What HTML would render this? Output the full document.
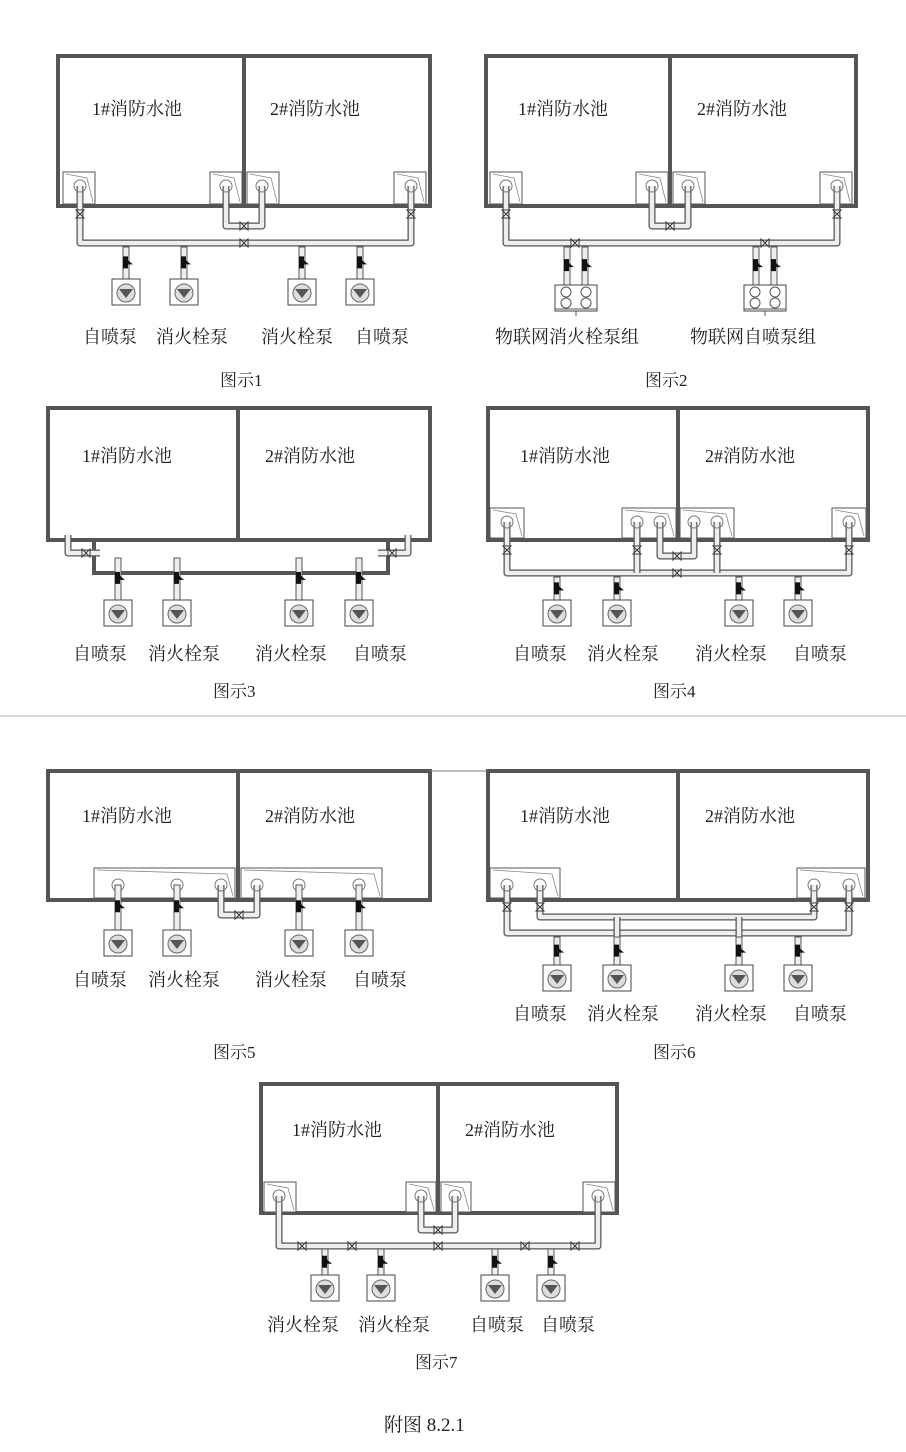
<!DOCTYPE html>
<html><head><meta charset="utf-8">
<style>
html,body{margin:0;padding:0;background:#fff;}
svg{display:block}
text{font-family:"Liberation Serif","Noto Serif CJK SC",serif;fill:#222;}
.t{font-size:18px}
.l{font-size:18px}
.c{font-size:17px}
</style></head><body>
<svg id="s" width="906" height="1452" viewBox="0 0 906 1452" xmlns="http://www.w3.org/2000/svg">
<g id="g"></g>
<line x1="0" y1="716" x2="906" y2="716" stroke="#c8c8c8" stroke-width="1.5"/>
<line x1="430" y1="771" x2="487" y2="771" stroke="#777" stroke-width="1"/>
<!-- Diagram 1 -->
<text class="t" x="92" y="115">1#消防水池</text>
<text class="t" x="270" y="115">2#消防水池</text>
<text class="l" x="83" y="343">自喷泵</text>
<text class="l" x="156" y="343">消火栓泵</text>
<text class="l" x="261" y="343">消火栓泵</text>
<text class="l" x="355" y="343">自喷泵</text>
<text class="c" x="220" y="386">图示1</text>
<!-- Diagram 2 -->
<text class="t" x="518" y="115">1#消防水池</text>
<text class="t" x="697" y="115">2#消防水池</text>
<text class="l" x="495" y="343">物联网消火栓泵组</text>
<text class="l" x="690" y="343">物联网自喷泵组</text>
<text class="c" x="645" y="386">图示2</text>
<!-- Diagram 3 -->
<text class="t" x="82" y="462">1#消防水池</text>
<text class="t" x="265" y="462">2#消防水池</text>
<text class="l" x="73" y="660">自喷泵</text>
<text class="l" x="148" y="660">消火栓泵</text>
<text class="l" x="255" y="660">消火栓泵</text>
<text class="l" x="353" y="660">自喷泵</text>
<text class="c" x="213" y="697">图示3</text>
<!-- Diagram 4 -->
<text class="t" x="520" y="462">1#消防水池</text>
<text class="t" x="705" y="462">2#消防水池</text>
<text class="l" x="513" y="660">自喷泵</text>
<text class="l" x="587" y="660">消火栓泵</text>
<text class="l" x="695" y="660">消火栓泵</text>
<text class="l" x="793" y="660">自喷泵</text>
<text class="c" x="653" y="697">图示4</text>
<!-- Diagram 5 -->
<text class="t" x="82" y="822">1#消防水池</text>
<text class="t" x="265" y="822">2#消防水池</text>
<text class="l" x="73" y="986">自喷泵</text>
<text class="l" x="148" y="986">消火栓泵</text>
<text class="l" x="255" y="986">消火栓泵</text>
<text class="l" x="353" y="986">自喷泵</text>
<text class="c" x="213" y="1058">图示5</text>
<!-- Diagram 6 -->
<text class="t" x="520" y="822">1#消防水池</text>
<text class="t" x="705" y="822">2#消防水池</text>
<text class="l" x="513" y="1020">自喷泵</text>
<text class="l" x="587" y="1020">消火栓泵</text>
<text class="l" x="695" y="1020">消火栓泵</text>
<text class="l" x="793" y="1020">自喷泵</text>
<text class="c" x="653" y="1058">图示6</text>
<!-- Diagram 7 -->
<text class="t" x="292" y="1136">1#消防水池</text>
<text class="t" x="465" y="1136">2#消防水池</text>
<text class="l" x="267" y="1331">消火栓泵</text>
<text class="l" x="358" y="1331">消火栓泵</text>
<text class="l" x="470" y="1331">自喷泵</text>
<text class="l" x="541" y="1331">自喷泵</text>
<text class="c" x="415" y="1368">图示7</text>
<text x="384" y="1431" style="font-size:19px">附图 8.2.1</text>
</svg>
<script>
var NS="http://www.w3.org/2000/svg",G=document.getElementById("g");
function el(n,a){var e=document.createElementNS(NS,n);for(var k in a)e.setAttribute(k,a[k]);G.appendChild(e);return e;}
function tank(x1,y1,x2,y2,d){
 el("rect",{x:x1,y:y1,width:x2-x1,height:y2-y1,fill:"none",stroke:"#555","stroke-width":4});
 el("line",{x1:d,y1:y1,x2:d,y2:y2,stroke:"#555","stroke-width":4});
}
function box(x,y,w,h){
 el("rect",{x:x,y:y,width:w,height:h,fill:"#fff",stroke:"#555","stroke-width":1});
 el("polyline",{points:(x+3)+","+(y+2)+" "+(x+w-8)+","+(y+6)+" "+(x+w-2)+","+(y+h-2),fill:"none",stroke:"#888","stroke-width":0.8});
}
function outlet(x,y){el("circle",{cx:x,cy:y,r:6,fill:"none",stroke:"#777","stroke-width":1});}
function pipe(pts){
 var p=pts.map(function(a){return a.join(",")}).join(" ");
 el("polyline",{points:p,fill:"none",stroke:"#555","stroke-width":7,"stroke-linejoin":"round"});
 el("polyline",{points:p,fill:"none",stroke:"#eee","stroke-width":4.5,"stroke-linejoin":"round"});
}
function valveH(x,y){el("path",{d:"M"+(x-4)+","+(y-4)+"L"+(x+4)+","+(y+4)+"L"+(x+4)+","+(y-4)+"L"+(x-4)+","+(y+4)+"Z",fill:"#fff",stroke:"#333","stroke-width":1});}
function valveV(x,y){el("path",{d:"M"+(x-4)+","+(y-4)+"L"+(x+4)+","+(y+4)+"L"+(x-4)+","+(y+4)+"L"+(x+4)+","+(y-4)+"Z",fill:"#fff",stroke:"#333","stroke-width":1});}
function pump(x,y0,by){
 // stem
 el("rect",{x:x-3,y:y0,width:6,height:by-y0,fill:"#eee",stroke:"#555","stroke-width":1});
 var m=y0+(by-y0)*0.45;
 el("path",{d:"M"+(x-3)+","+(m-5)+"h5v4l5,4h-5v4h-5z",fill:"#111"});
 el("rect",{x:x-14,y:by,width:28,height:26,fill:"#fff",stroke:"#444","stroke-width":1});
 el("circle",{cx:x,cy:by+14,r:9,fill:"#ddd",stroke:"#666","stroke-width":1});
 el("path",{d:"M"+(x-7)+","+(by+10)+"h14l-7,9z",fill:"#555"});
}
function group(x,y0,by){
 [x-9,x+9].forEach(function(px){
  el("rect",{x:px-3,y:y0,width:6,height:by-y0,fill:"#eee",stroke:"#555","stroke-width":1});
  var m=y0+(by-y0)*0.45;
  el("path",{d:"M"+(px-3)+","+(m-5)+"h5v4l5,4h-5v4h-5z",fill:"#111"});
 });
 el("rect",{x:x-21,y:by,width:42,height:26,fill:"#fff",stroke:"#444","stroke-width":1});
 [x-10,x+10].forEach(function(px){
  el("circle",{cx:px,cy:by+7,r:5,fill:"none",stroke:"#555"});
  el("circle",{cx:px,cy:by+18,r:5,fill:"none",stroke:"#555"});
 });
 el("line",{x1:x-21,y1:by+24,x2:x+21,y2:by+24,stroke:"#555"});
 el("line",{x1:x,y1:by+26,x2:x,y2:by+31,stroke:"#555"});
}
// ===== Diagram 1
tank(58,56,430,206,244);
box(63,172,32,32);box(210,172,32,32);box(247,172,32,32);box(394,172,32,32);
pipe([[80,186],[80,243],[411,243],[411,186]]);
pipe([[226,186],[226,226],[262,226],[262,186]]);
[80,411].forEach(function(x){valveV(x,214)});valveH(244,226);valveH(244,243);
[80,226,262,411].forEach(function(x){outlet(x,186)});
[126,184,302,360].forEach(function(x){pump(x,247,279)});
// ===== Diagram 2
tank(486,56,856,206,670);
box(490,172,32,32);box(636,172,32,32);box(673,172,32,32);box(820,172,32,32);
pipe([[506,186],[506,243],[837,243],[837,186]]);
pipe([[652,186],[652,226],[688,226],[688,186]]);
[506,837].forEach(function(x){valveV(x,214)});valveH(670,226);valveH(575,243);valveH(765,243);
[506,652,688,837].forEach(function(x){outlet(x,186)});
group(576,247,285);group(765,247,285);
// ===== Diagram 3
tank(48,408,430,540,238);
el("polyline",{points:"94,540 94,573 388,573 388,540",fill:"none",stroke:"#555","stroke-width":4});
pipe([[68,535],[68,553],[100,553]]);pipe([[408,535],[408,553],[378,553]]);
valveH(86,553);valveH(392,553);
[118,177,299,359].forEach(function(x){pump(x,558,600)});
// ===== Diagram 4
tank(488,408,868,540,678);
box(490,508,34,30);box(622,508,54,30);box(680,508,54,30);box(832,508,34,30);
pipe([[507,522],[507,573],[849,573],[849,522]]);
pipe([[637,522],[637,573]]);pipe([[717,522],[717,573]]);
pipe([[660,522],[660,556],[694,556],[694,522]]);
[507,849,637,717].forEach(function(x){valveV(x,550)});valveH(677,556);valveH(677,573);
[507,637,660,694,717,849].forEach(function(x){outlet(x,522)});
[557,617,739,798].forEach(function(x){pump(x,577,600)});
// ===== Diagram 5
tank(48,771,430,900,238);
box(94,868,141,30);box(241,868,141,30);
pipe([[221,885],[221,915],[257,915],[257,885]]);valveH(239,915);
[118,177,221,257,299,359].forEach(function(x){outlet(x,885)});
[118,177,299,359].forEach(function(x){pump(x,885,930)});
// ===== Diagram 6
tank(488,771,868,900,678);
box(490,868,70,30);box(797,868,68,30);
pipe([[540,885],[540,917],[814,917],[814,885]]);
pipe([[507,885],[507,933],[849,933],[849,885]]);
[507,540,814,849].forEach(function(x){valveV(x,907)});
pipe([[617,917],[617,940]]);pipe([[739,917],[739,940]]);
[507,540,814,849].forEach(function(x){outlet(x,885)});
[557,617,739,798].forEach(function(x){pump(x,937,965)});
// ===== Diagram 7
tank(261,1084,617,1213,438);
box(264,1182,32,30);box(406,1182,30,30);box(441,1182,30,30);box(583,1182,32,30);
pipe([[279,1196],[279,1246],[598,1246],[598,1196]]);
pipe([[421,1196],[421,1230],[455,1230],[455,1196]]);valveH(438,1230);
[302,352,438,525,575].forEach(function(x){valveH(x,1246)});
[279,421,455,598].forEach(function(x){outlet(x,1196)});
[325,381,495,551].forEach(function(x){pump(x,1249,1275)});
</script>
</body></html>
